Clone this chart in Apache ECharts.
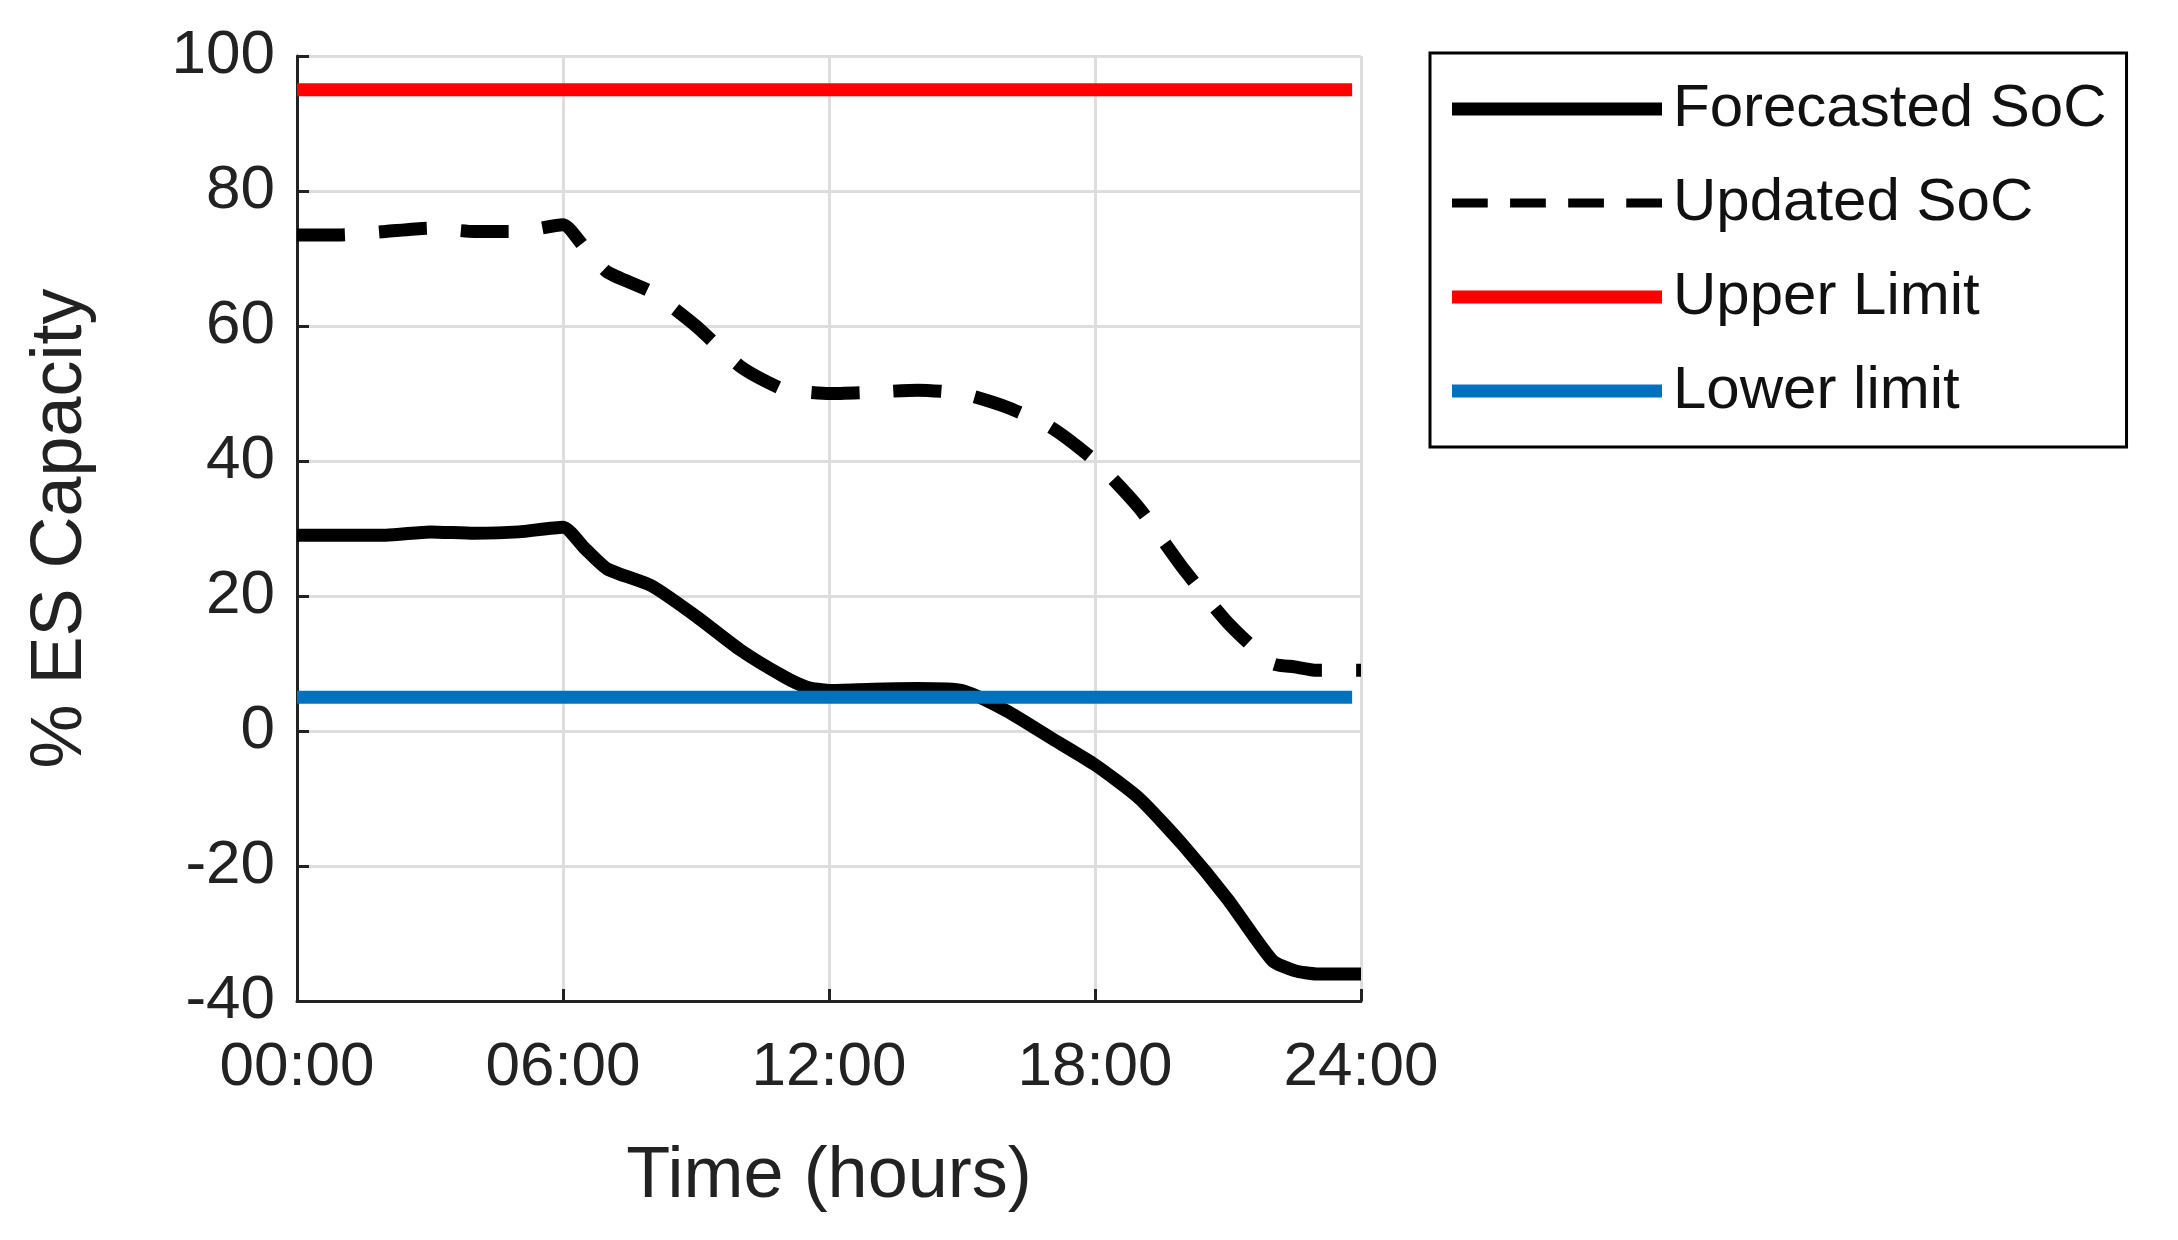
<!DOCTYPE html><html><head><meta charset="utf-8"><script src="https://cdn.jsdelivr.net/npm/echarts@6/dist/echarts.min.js"></script>
<style>html,body{margin:0;background:#fff}#c{width:2178px;height:1240px}</style></head><body><div id="c"></div><script>
const hours=[0,1,2,3,4,5,6,6.5,7,8,9,10,11,11.5,12,13,14,15,16,17,18,19,20,21,22,22.5,23,24];
const forecasted=[29,29,29,29.5,29.3,29.5,30.2,27,24,21.5,17,12,8,6.5,6,6.2,6.3,6,3,-1,-5,-10,-17,-25,-34,-35.5,-36,-36];
const updated=[73.5,73.5,74,74.5,74,74,75,71.5,68,65,60,54,50.5,50.2,50,50.2,50.5,50,48,45,40,33,24,16,10,9.5,9,9];
const upperLimit=95, lowerLimit=5;
const xTicks=['00:00','06:00','12:00','18:00','24:00'];
const pair=(a)=>hours.map((h,i)=>[h,a[i]]);
const F='"Liberation Sans", Arial, sans-serif';
const c=echarts.init(document.getElementById('c'));
c.setOption({animation:false,
grid:{left:297,right:817,top:56,bottom:239},
legend:{left:1430,top:53,orient:'vertical',itemWidth:210,itemHeight:13,itemGap:34,padding:[26,20,26,22],borderColor:'#000',borderWidth:3,
 textStyle:{fontFamily:F,fontSize:60,color:'#111',padding:[0,0,0,6]},
 data:[{name:'Forecasted SoC',icon:'rect'},{name:'Updated SoC',icon:'path://M0,0H4V1H0Z M6.5,0H10.5V1H6.5Z M13,0H17V1H13Z M19.5,0H23.5V1H19.5Z'},{name:'Upper Limit',icon:'rect'},{name:'Lower limit',icon:'rect'}]},
xAxis:{type:'value',min:0,max:24,interval:6,name:'Time (hours)',nameLocation:'middle',nameGap:140,
 nameTextStyle:{fontFamily:F,fontSize:72,color:'#222'},
 axisLine:{onZero:false,lineStyle:{color:'#222',width:3}},axisTick:{inside:true,length:12,lineStyle:{color:'#222',width:3}},
 axisLabel:{fontFamily:F,fontSize:62,color:'#222',margin:36,formatter:v=>xTicks[v/6]},
 splitLine:{show:true,lineStyle:{color:'#ddd',width:3}}},
yAxis:{type:'value',min:-40,max:100,interval:20,name:'% ES Capacity',nameLocation:'middle',nameGap:200,
 nameTextStyle:{fontFamily:F,fontSize:72,color:'#222'},
 axisLine:{show:true,lineStyle:{color:'#222',width:3}},axisTick:{show:true,inside:true,length:12,lineStyle:{color:'#222',width:3}},
 axisLabel:{fontFamily:F,fontSize:62,color:'#222',margin:22},
 splitLine:{lineStyle:{color:'#ddd',width:3}}},
series:[
 {name:'Forecasted SoC',type:'line',showSymbol:false,smooth:0.2,data:pair(forecasted),color:'#000',lineStyle:{width:13,color:'#000'},z:3},
 {name:'Updated SoC',type:'line',showSymbol:false,smooth:0.2,data:pair(updated),color:'#000',lineStyle:{width:13,color:'#000',type:[48,34]},z:3},
 {name:'Upper Limit',type:'line',showSymbol:false,data:[[0,upperLimit],[23.8,upperLimit]],color:'#ff0000',lineStyle:{width:13,color:'#ff0000'}},
 {name:'Lower limit',type:'line',showSymbol:false,data:[[0,lowerLimit],[23.8,lowerLimit]],color:'#0072bd',lineStyle:{width:13,color:'#0072bd'}}
]});
</script></body></html>
